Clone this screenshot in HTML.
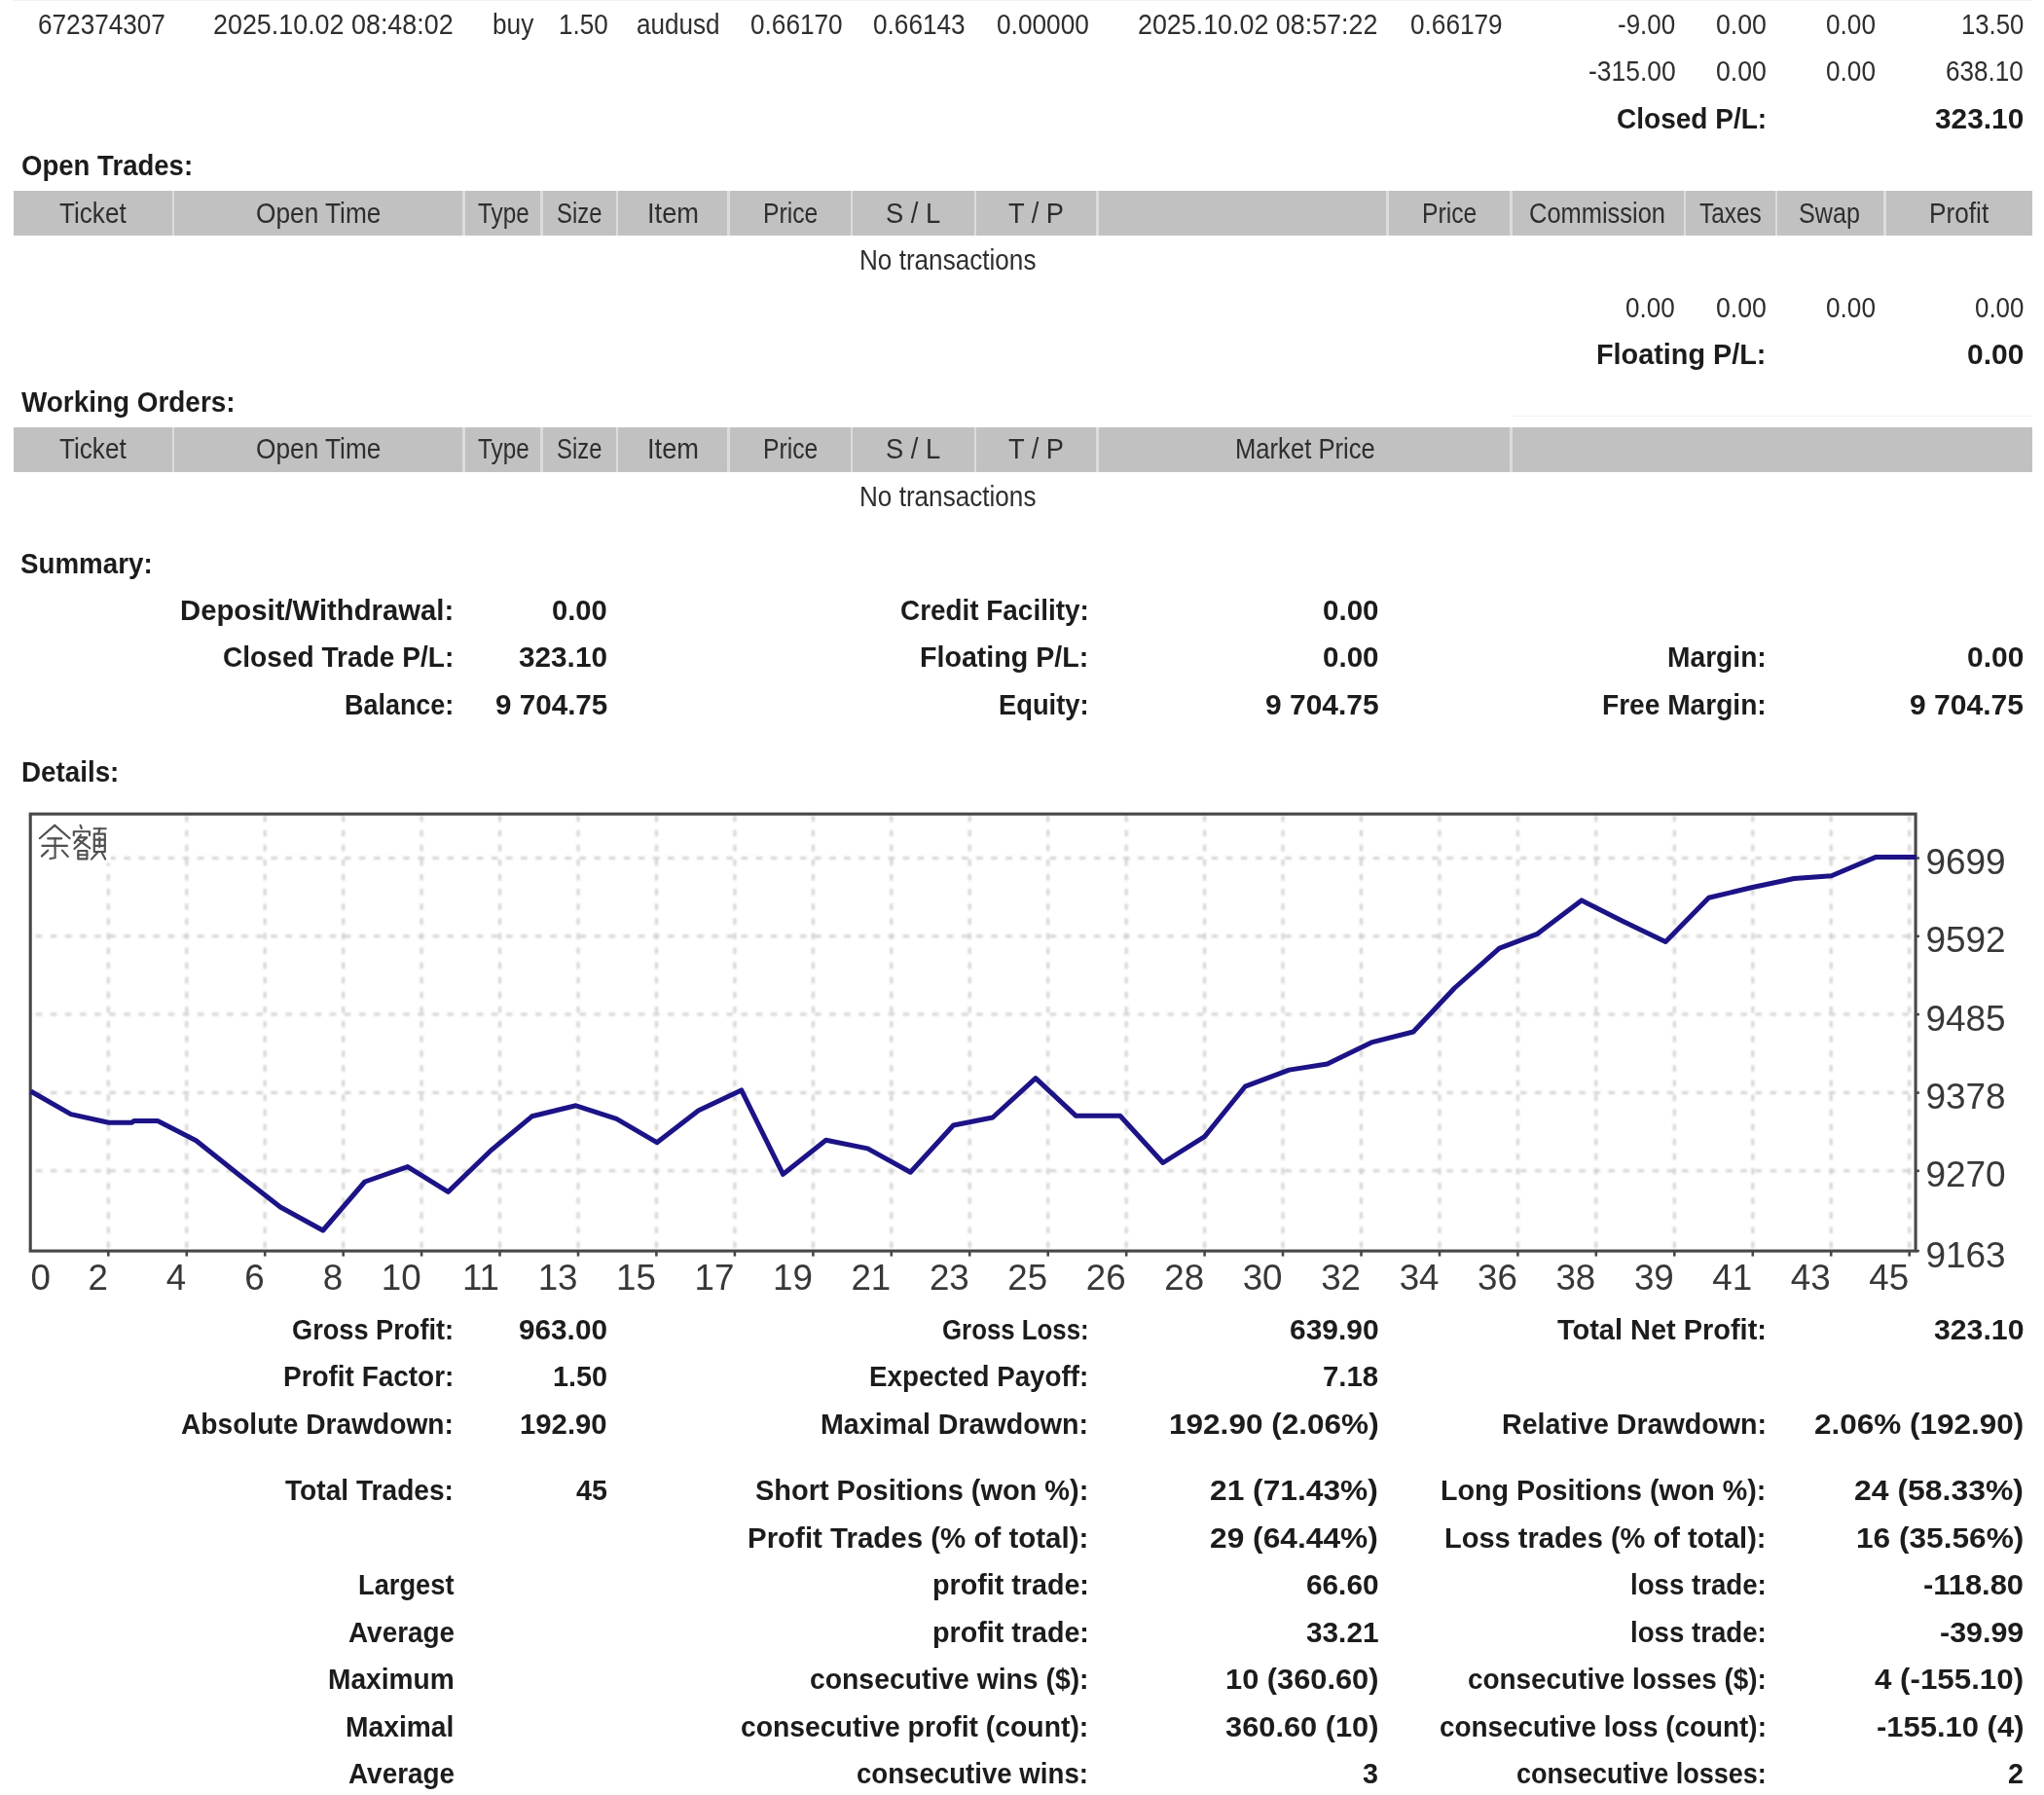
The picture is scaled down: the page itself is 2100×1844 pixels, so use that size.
<!DOCTYPE html>
<html><head><meta charset="utf-8"><title>Statement</title>
<style>
html,body{margin:0;padding:0;background:#fff}
body{width:2100px;height:1844px;position:relative;overflow:hidden;filter:blur(0.7px);font-family:"Liberation Sans",sans-serif}
.t{position:absolute;white-space:nowrap;font-size:29px;line-height:29px;transform-origin:0 0;display:block}
.r{color:#2e2e2e}
.b{font-weight:bold;color:#1c1c1c}
.hb{position:absolute;left:14px;width:2074px;background:#c1c1c1}
.sp{position:absolute;width:2.6px;background:#dcdcdc}
.ch{position:absolute;left:0;top:0}
.ln{position:absolute;left:14px;width:2074px;height:1px;background:#f1f1f1}
</style></head><body>
<div class="ln" style="top:0"></div><div class="ln" style="top:427px;left:1553px;width:535px"></div>
<div class="hb" style="top:195.8px;height:45.9px"></div><div class="sp" style="left:176.7px;top:195.8px;height:45.9px"></div><div class="sp" style="left:475.4px;top:195.8px;height:45.9px"></div><div class="sp" style="left:555.3px;top:195.8px;height:45.9px"></div><div class="sp" style="left:632.7px;top:195.8px;height:45.9px"></div><div class="sp" style="left:747.3px;top:195.8px;height:45.9px"></div><div class="sp" style="left:873.7px;top:195.8px;height:45.9px"></div><div class="sp" style="left:1000.9px;top:195.8px;height:45.9px"></div><div class="sp" style="left:1126.3px;top:195.8px;height:45.9px"></div><div class="sp" style="left:1424.2px;top:195.8px;height:45.9px"></div><div class="sp" style="left:1551.1px;top:195.8px;height:45.9px"></div><div class="sp" style="left:1729.7px;top:195.8px;height:45.9px"></div><div class="sp" style="left:1823.7px;top:195.8px;height:45.9px"></div><div class="sp" style="left:1935.1px;top:195.8px;height:45.9px"></div><div class="hb" style="top:438.5px;height:46.6px"></div><div class="sp" style="left:176.7px;top:438.5px;height:46.6px"></div><div class="sp" style="left:475.4px;top:438.5px;height:46.6px"></div><div class="sp" style="left:555.3px;top:438.5px;height:46.6px"></div><div class="sp" style="left:632.7px;top:438.5px;height:46.6px"></div><div class="sp" style="left:747.3px;top:438.5px;height:46.6px"></div><div class="sp" style="left:873.7px;top:438.5px;height:46.6px"></div><div class="sp" style="left:1000.9px;top:438.5px;height:46.6px"></div><div class="sp" style="left:1126.3px;top:438.5px;height:46.6px"></div><div class="sp" style="left:1551.1px;top:438.5px;height:46.6px"></div>
<svg class="ch" width="2100" height="1844" viewBox="0 0 2100 1844"><defs><filter id="gb" x="-5%" y="-5%" width="110%" height="110%"><feGaussianBlur stdDeviation="1.15"/></filter></defs><g stroke="#d3d3d3" stroke-width="3" stroke-dasharray="6.6 8.5" fill="none" filter="url(#gb)"><path d="M111.3 837.6 V1284.1"/><path d="M191.8 837.6 V1284.1"/><path d="M272.2 837.6 V1284.1"/><path d="M352.7 837.6 V1284.1"/><path d="M433.1 837.6 V1284.1"/><path d="M513.5 837.6 V1284.1"/><path d="M594.0 837.6 V1284.1"/><path d="M674.4 837.6 V1284.1"/><path d="M754.9 837.6 V1284.1"/><path d="M835.4 837.6 V1284.1"/><path d="M915.8 837.6 V1284.1"/><path d="M996.2 837.6 V1284.1"/><path d="M1076.7 837.6 V1284.1"/><path d="M1157.2 837.6 V1284.1"/><path d="M1237.6 837.6 V1284.1"/><path d="M1318.0 837.6 V1284.1"/><path d="M1398.5 837.6 V1284.1"/><path d="M1479.0 837.6 V1284.1"/><path d="M1559.4 837.6 V1284.1"/><path d="M1639.8 837.6 V1284.1"/><path d="M1720.3 837.6 V1284.1"/><path d="M1800.8 837.6 V1284.1"/><path d="M1881.2 837.6 V1284.1"/><path d="M1961.7 837.6 V1284.1"/><path d="M36.7 881.5 H1967.1"/><path d="M36.7 961.8 H1967.1"/><path d="M36.7 1042.1 H1967.1"/><path d="M36.7 1122.6 H1967.1"/><path d="M36.7 1202.8 H1967.1"/></g><g stroke="#474747" stroke-width="2.6" fill="none"><path d="M111.3 1285.1 V1290.6"/><path d="M191.8 1285.1 V1290.6"/><path d="M272.2 1285.1 V1290.6"/><path d="M352.7 1285.1 V1290.6"/><path d="M433.1 1285.1 V1290.6"/><path d="M513.5 1285.1 V1290.6"/><path d="M594.0 1285.1 V1290.6"/><path d="M674.4 1285.1 V1290.6"/><path d="M754.9 1285.1 V1290.6"/><path d="M835.4 1285.1 V1290.6"/><path d="M915.8 1285.1 V1290.6"/><path d="M996.2 1285.1 V1290.6"/><path d="M1076.7 1285.1 V1290.6"/><path d="M1157.2 1285.1 V1290.6"/><path d="M1237.6 1285.1 V1290.6"/><path d="M1318.0 1285.1 V1290.6"/><path d="M1398.5 1285.1 V1290.6"/><path d="M1479.0 1285.1 V1290.6"/><path d="M1559.4 1285.1 V1290.6"/><path d="M1639.8 1285.1 V1290.6"/><path d="M1720.3 1285.1 V1290.6"/><path d="M1800.8 1285.1 V1290.6"/><path d="M1881.2 1285.1 V1290.6"/><path d="M1961.7 1285.1 V1290.6"/><path d="M1968.1 881.5 H1971.8999999999999"/><path d="M1968.1 961.8 H1971.8999999999999"/><path d="M1968.1 1042.1 H1971.8999999999999"/><path d="M1968.1 1122.6 H1971.8999999999999"/><path d="M1968.1 1202.8 H1971.8999999999999"/><path d="M1968.1 1285.1 H1971.8999999999999"/></g><rect x="31.2" y="836.2" width="1936.8999999999999" height="448.89999999999986" fill="none" stroke="#474747" stroke-width="3.1"/><polyline fill="none" stroke="#1c1386" stroke-width="5" stroke-linejoin="round" stroke-linecap="butt" points="31.5,1121 72.8,1144.6 111.7,1153.3 135,1153.3 137.6,1151.6 162,1151.6 201.5,1171.7 246,1207.2 288,1240 331.8,1264 374.8,1214 418.8,1198.6 460.4,1224.4 504,1182.2 546.5,1146.8 591.7,1135.8 633.4,1149.3 674.9,1173.7 717.7,1140.7 761.7,1119.9 804.5,1206.3 848.6,1171.3 891.4,1179.9 935.4,1204.3 979.5,1156 1019.9,1148 1064,1107.6 1105.5,1146.3 1150.8,1146.3 1194.8,1194.5 1237.6,1167.6 1279.2,1116.2 1324.5,1099.1 1363.6,1093 1408.9,1070.9 1452,1060 1494.4,1015 1540.5,974.2 1578.9,959.7 1624.9,924.9 1667,946.2 1711.2,967.4 1755.6,922.2 1799.5,911.8 1843.3,902.5 1881.6,899.7 1926.8,880.6 1969,880.6"/><rect x="33" y="838" width="81" height="48.6" fill="#fff"/><g stroke="#505050" stroke-width="2.15" fill="none" stroke-linecap="round" stroke-linejoin="round"><path d="M56.2 847.9 L40.8 861.2"/><path d="M56.2 847.9 L71.6 861.2"/><path d="M49.2 861.4 H63.2"/><path d="M43.4 868.8 H69"/><path d="M56.6 861.4 V881.2 L51.5 882"/><path d="M49.2 873.6 L42.8 879.6"/><path d="M64 873.6 L69.8 880"/><path d="M82.6 847.8 L83.8 851"/><path d="M75.8 858.2 V854.2 H92 V858.2"/><path d="M83 857.6 L76.6 866"/><path d="M81 860.4 H89.2 L76.4 872"/><path d="M80.6 862.8 L92.4 871.4"/><path d="M80.3 874 H89.4 V882.4 H80.3 Z"/><path d="M80.3 878.2 H89.4"/><path d="M96.6 851.2 H108.8"/><path d="M102.6 851.2 L101 856.5"/><path d="M96.8 856.6 H107.8 V875 H96.8 Z"/><path d="M102.3 860.5 V870"/><path d="M96.8 862.6 H107.8"/><path d="M96.8 868.8 H107.8"/><path d="M100 876 L94 882.6"/><path d="M105 876.4 L108.2 882.6"/></g><g font-family="Liberation Sans, sans-serif" font-size="34" fill="#383838"><text transform="translate(31.6 1325.4) scale(1.08 1.06)" text-anchor="start">0</text><text transform="translate(110.8 1325.4) scale(1.08 1.06)" text-anchor="end">2</text><text transform="translate(191.2 1325.4) scale(1.08 1.06)" text-anchor="end">4</text><text transform="translate(271.7 1325.4) scale(1.08 1.06)" text-anchor="end">6</text><text transform="translate(352.2 1325.4) scale(1.08 1.06)" text-anchor="end">8</text><text transform="translate(432.6 1325.4) scale(1.08 1.06)" text-anchor="end">10</text><text transform="translate(513.0 1325.4) scale(1.08 1.06)" text-anchor="end">11</text><text transform="translate(593.5 1325.4) scale(1.08 1.06)" text-anchor="end">13</text><text transform="translate(673.9 1325.4) scale(1.08 1.06)" text-anchor="end">15</text><text transform="translate(754.4 1325.4) scale(1.08 1.06)" text-anchor="end">17</text><text transform="translate(834.9 1325.4) scale(1.08 1.06)" text-anchor="end">19</text><text transform="translate(915.3 1325.4) scale(1.08 1.06)" text-anchor="end">21</text><text transform="translate(995.8 1325.4) scale(1.08 1.06)" text-anchor="end">23</text><text transform="translate(1076.2 1325.4) scale(1.08 1.06)" text-anchor="end">25</text><text transform="translate(1156.7 1325.4) scale(1.08 1.06)" text-anchor="end">26</text><text transform="translate(1237.1 1325.4) scale(1.08 1.06)" text-anchor="end">28</text><text transform="translate(1317.5 1325.4) scale(1.08 1.06)" text-anchor="end">30</text><text transform="translate(1398.0 1325.4) scale(1.08 1.06)" text-anchor="end">32</text><text transform="translate(1478.5 1325.4) scale(1.08 1.06)" text-anchor="end">34</text><text transform="translate(1558.9 1325.4) scale(1.08 1.06)" text-anchor="end">36</text><text transform="translate(1639.3 1325.4) scale(1.08 1.06)" text-anchor="end">38</text><text transform="translate(1719.8 1325.4) scale(1.08 1.06)" text-anchor="end">39</text><text transform="translate(1800.2 1325.4) scale(1.08 1.06)" text-anchor="end">41</text><text transform="translate(1880.7 1325.4) scale(1.08 1.06)" text-anchor="end">43</text><text transform="translate(1961.2 1325.4) scale(1.08 1.06)" text-anchor="end">45</text><text transform="translate(1978.4 898.1) scale(1.088 1.06)">9699</text><text transform="translate(1978.4 978.4) scale(1.088 1.06)">9592</text><text transform="translate(1978.4 1058.7) scale(1.088 1.06)">9485</text><text transform="translate(1978.4 1139.2) scale(1.088 1.06)">9378</text><text transform="translate(1978.4 1219.4) scale(1.088 1.06)">9270</text><text transform="translate(1978.4 1301.7) scale(1.088 1.06)">9163</text></g></svg>
<span class="t r" style="left:38.80px;top:9.89px;transform:scale(0.9019,1.035)">672374307</span>
<span class="t r" style="left:219.40px;top:9.89px;transform:scale(0.9268,1.035)">2025.10.02 08:48:02</span>
<span class="t r" style="left:505.70px;top:9.89px;transform:scale(0.9060,1.035)">buy</span>
<span class="t r" style="left:574.00px;top:9.89px;transform:scale(0.8971,1.035)">1.50</span>
<span class="t r" style="left:654.40px;top:9.89px;transform:scale(0.8999,1.035)">audusd</span>
<span class="t r" style="left:771.30px;top:9.89px;transform:scale(0.9033,1.035)">0.66170</span>
<span class="t r" style="left:897.20px;top:9.89px;transform:scale(0.9033,1.035)">0.66143</span>
<span class="t r" style="left:1023.70px;top:9.89px;transform:scale(0.9052,1.035)">0.00000</span>
<span class="t r" style="left:1169.20px;top:9.89px;transform:scale(0.9257,1.035)">2025.10.02 08:57:22</span>
<span class="t r" style="left:1448.70px;top:9.89px;transform:scale(0.9033,1.035)">0.66179</span>
<span class="t r" style="left:1662.00px;top:9.89px;transform:scale(0.8953,1.035)">-9.00</span>
<span class="t r" style="left:1763.40px;top:9.89px;transform:scale(0.9201,1.035)">0.00</span>
<span class="t r" style="left:1876.40px;top:9.89px;transform:scale(0.9024,1.035)">0.00</span>
<span class="t r" style="left:2014.60px;top:9.89px;transform:scale(0.8865,1.035)">13.50</span>
<span class="t r" style="left:1631.50px;top:58.39px;transform:scale(0.9124,1.035)">-315.00</span>
<span class="t r" style="left:1763.40px;top:58.39px;transform:scale(0.9201,1.035)">0.00</span>
<span class="t r" style="left:1876.40px;top:58.39px;transform:scale(0.9024,1.035)">0.00</span>
<span class="t r" style="left:1999.20px;top:58.39px;transform:scale(0.8993,1.035)">638.10</span>
<span class="t b" style="left:1660.70px;top:107.75px;transform:scale(0.9661,1.0)">Closed P/L:</span>
<span class="t b" style="left:1987.70px;top:107.75px;transform:scale(1.0288,1.0)">323.10</span>
<span class="t b" style="left:21.50px;top:156.25px;transform:scale(0.9503,1.0)">Open Trades:</span>
<span class="t r" style="left:61.00px;top:203.89px;transform:scale(0.9007,1.035)">Ticket</span>
<span class="t r" style="left:263.00px;top:203.89px;transform:scale(0.9054,1.035)">Open Time</span>
<span class="t r" style="left:491.00px;top:203.89px;transform:scale(0.8390,1.035)">Type</span>
<span class="t r" style="left:572.00px;top:203.89px;transform:scale(0.8226,1.035)">Size</span>
<span class="t r" style="left:665.00px;top:203.89px;transform:scale(0.9396,1.035)">Item</span>
<span class="t r" style="left:784.00px;top:203.89px;transform:scale(0.8515,1.035)">Price</span>
<span class="t r" style="left:910.00px;top:203.89px;transform:scale(0.9430,1.035)">S / L</span>
<span class="t r" style="left:1036.40px;top:203.89px;transform:scale(0.9382,1.035)">T / P</span>
<span class="t r" style="left:1461.40px;top:203.89px;transform:scale(0.8515,1.035)">Price</span>
<span class="t r" style="left:1571.00px;top:203.89px;transform:scale(0.8777,1.035)">Commission</span>
<span class="t r" style="left:1746.30px;top:203.89px;transform:scale(0.8403,1.035)">Taxes</span>
<span class="t r" style="left:1848.30px;top:203.89px;transform:scale(0.8676,1.035)">Swap</span>
<span class="t r" style="left:1981.60px;top:203.89px;transform:scale(0.9038,1.035)">Profit</span>
<span class="t r" style="left:883.20px;top:252.39px;transform:scale(0.9005,1.035)">No transactions</span>
<span class="t r" style="left:1670.40px;top:300.89px;transform:scale(0.8989,1.035)">0.00</span>
<span class="t r" style="left:1763.40px;top:300.89px;transform:scale(0.9201,1.035)">0.00</span>
<span class="t r" style="left:1876.40px;top:300.89px;transform:scale(0.9024,1.035)">0.00</span>
<span class="t r" style="left:2028.60px;top:300.89px;transform:scale(0.8935,1.035)">0.00</span>
<span class="t b" style="left:1640.40px;top:350.25px;transform:scale(0.9932,1.0)">Floating P/L:</span>
<span class="t b" style="left:2020.70px;top:350.25px;transform:scale(1.0336,1.0)">0.00</span>
<span class="t b" style="left:21.50px;top:398.75px;transform:scale(0.9617,1.0)">Working Orders:</span>
<span class="t r" style="left:61.00px;top:446.39px;transform:scale(0.9007,1.035)">Ticket</span>
<span class="t r" style="left:263.00px;top:446.39px;transform:scale(0.9054,1.035)">Open Time</span>
<span class="t r" style="left:491.00px;top:446.39px;transform:scale(0.8390,1.035)">Type</span>
<span class="t r" style="left:572.00px;top:446.39px;transform:scale(0.8226,1.035)">Size</span>
<span class="t r" style="left:665.00px;top:446.39px;transform:scale(0.9396,1.035)">Item</span>
<span class="t r" style="left:784.00px;top:446.39px;transform:scale(0.8515,1.035)">Price</span>
<span class="t r" style="left:910.00px;top:446.39px;transform:scale(0.9430,1.035)">S / L</span>
<span class="t r" style="left:1036.40px;top:446.39px;transform:scale(0.9382,1.035)">T / P</span>
<span class="t r" style="left:1268.50px;top:446.39px;transform:scale(0.8831,1.035)">Market Price</span>
<span class="t r" style="left:883.20px;top:494.89px;transform:scale(0.9005,1.035)">No transactions</span>
<span class="t b" style="left:21.00px;top:564.55px;transform:scale(0.9562,1.0)">Summary:</span>
<span class="t b" style="left:185.00px;top:612.85px;transform:scale(1.0099,1.0)">Deposit/Withdrawal:</span>
<span class="t b" style="left:567.30px;top:612.85px;transform:scale(1.0052,1.0)">0.00</span>
<span class="t b" style="left:924.80px;top:612.85px;transform:scale(0.9617,1.0)">Credit Facility:</span>
<span class="t b" style="left:1358.80px;top:612.85px;transform:scale(1.0194,1.0)">0.00</span>
<span class="t b" style="left:229.00px;top:661.25px;transform:scale(0.9689,1.0)">Closed Trade P/L:</span>
<span class="t b" style="left:533.00px;top:661.25px;transform:scale(1.0255,1.0)">323.10</span>
<span class="t b" style="left:945.20px;top:661.25px;transform:scale(0.9869,1.0)">Floating P/L:</span>
<span class="t b" style="left:1358.80px;top:661.25px;transform:scale(1.0194,1.0)">0.00</span>
<span class="t b" style="left:1713.00px;top:661.25px;transform:scale(0.9714,1.0)">Margin:</span>
<span class="t b" style="left:2020.70px;top:661.25px;transform:scale(1.0336,1.0)">0.00</span>
<span class="t b" style="left:354.00px;top:709.65px;transform:scale(0.9286,1.0)">Balance:</span>
<span class="t b" style="left:508.60px;top:709.65px;transform:scale(1.0216,1.0)">9 704.75</span>
<span class="t b" style="left:1025.90px;top:709.65px;transform:scale(0.9419,1.0)">Equity:</span>
<span class="t b" style="left:1299.60px;top:709.65px;transform:scale(1.0332,1.0)">9 704.75</span>
<span class="t b" style="left:1646.00px;top:709.65px;transform:scale(0.9695,1.0)">Free Margin:</span>
<span class="t b" style="left:1962.00px;top:709.65px;transform:scale(1.0358,1.0)">9 704.75</span>
<span class="t b" style="left:21.50px;top:778.95px;transform:scale(0.9581,1.0)">Details:</span>
<span class="t b" style="left:300.20px;top:1351.65px;transform:scale(0.9374,1.0)">Gross Profit:</span>
<span class="t b" style="left:533.00px;top:1351.65px;transform:scale(1.0255,1.0)">963.00</span>
<span class="t b" style="left:967.70px;top:1351.65px;transform:scale(0.8906,1.0)">Gross Loss:</span>
<span class="t b" style="left:1324.60px;top:1351.65px;transform:scale(1.0334,1.0)">639.90</span>
<span class="t b" style="left:1599.80px;top:1351.65px;transform:scale(0.9980,1.0)">Total Net Profit:</span>
<span class="t b" style="left:1986.50px;top:1351.65px;transform:scale(1.0424,1.0)">323.10</span>
<span class="t b" style="left:290.90px;top:1400.15px;transform:scale(0.9631,1.0)">Profit Factor:</span>
<span class="t b" style="left:568.00px;top:1400.15px;transform:scale(0.9928,1.0)">1.50</span>
<span class="t b" style="left:893.10px;top:1400.15px;transform:scale(0.9574,1.0)">Expected Payoff:</span>
<span class="t b" style="left:1359.20px;top:1400.15px;transform:scale(1.0123,1.0)">7.18</span>
<span class="t b" style="left:186.40px;top:1448.65px;transform:scale(0.9705,1.0)">Absolute Drawdown:</span>
<span class="t b" style="left:534.30px;top:1448.65px;transform:scale(1.0108,1.0)">192.90</span>
<span class="t b" style="left:843.40px;top:1448.65px;transform:scale(0.9862,1.0)">Maximal Drawdown:</span>
<span class="t b" style="left:1200.60px;top:1448.65px;transform:scale(1.0874,1.0)">192.90 (2.06%)</span>
<span class="t b" style="left:1542.70px;top:1448.65px;transform:scale(0.9873,1.0)">Relative Drawdown:</span>
<span class="t b" style="left:1863.60px;top:1448.65px;transform:scale(1.0859,1.0)">2.06% (192.90)</span>
<span class="t b" style="left:293.30px;top:1517.25px;transform:scale(0.9700,1.0)">Total Trades:</span>
<span class="t b" style="left:592.10px;top:1517.25px;transform:scale(0.9909,1.0)">45</span>
<span class="t b" style="left:776.00px;top:1517.25px;transform:scale(0.9976,1.0)">Short Positions (won %):</span>
<span class="t b" style="left:1243.40px;top:1517.25px;transform:scale(1.0940,1.0)">21 (71.43%)</span>
<span class="t b" style="left:1480.40px;top:1517.25px;transform:scale(0.9882,1.0)">Long Positions (won %):</span>
<span class="t b" style="left:1905.00px;top:1517.25px;transform:scale(1.1009,1.0)">24 (58.33%)</span>
<span class="t b" style="left:768.10px;top:1565.75px;transform:scale(1.0159,1.0)">Profit Trades (% of total):</span>
<span class="t b" style="left:1243.40px;top:1565.75px;transform:scale(1.0940,1.0)">29 (64.44%)</span>
<span class="t b" style="left:1484.20px;top:1565.75px;transform:scale(1.0006,1.0)">Loss trades (% of total):</span>
<span class="t b" style="left:1906.60px;top:1565.75px;transform:scale(1.0908,1.0)">16 (35.56%)</span>
<span class="t b" style="left:367.90px;top:1614.25px;transform:scale(0.9399,1.0)">Largest</span>
<span class="t b" style="left:957.50px;top:1614.25px;transform:scale(0.9890,1.0)">profit trade:</span>
<span class="t b" style="left:1341.70px;top:1614.25px;transform:scale(1.0269,1.0)">66.60</span>
<span class="t b" style="left:1675.00px;top:1614.25px;transform:scale(0.9530,1.0)">loss trade:</span>
<span class="t b" style="left:1976.00px;top:1614.25px;transform:scale(1.0650,1.0)">-118.80</span>
<span class="t b" style="left:358.10px;top:1662.75px;transform:scale(0.9622,1.0)">Average</span>
<span class="t b" style="left:957.50px;top:1662.75px;transform:scale(0.9890,1.0)">profit trade:</span>
<span class="t b" style="left:1341.70px;top:1662.75px;transform:scale(1.0269,1.0)">33.21</span>
<span class="t b" style="left:1675.00px;top:1662.75px;transform:scale(0.9530,1.0)">loss trade:</span>
<span class="t b" style="left:1992.80px;top:1662.75px;transform:scale(1.0485,1.0)">-39.99</span>
<span class="t b" style="left:336.60px;top:1711.25px;transform:scale(0.9702,1.0)">Maximum</span>
<span class="t b" style="left:831.80px;top:1711.25px;transform:scale(0.9770,1.0)">consecutive wins ($):</span>
<span class="t b" style="left:1258.80px;top:1711.25px;transform:scale(1.0618,1.0)">10 (360.60)</span>
<span class="t b" style="left:1507.80px;top:1711.25px;transform:scale(0.9616,1.0)">consecutive losses ($):</span>
<span class="t b" style="left:1926.00px;top:1711.25px;transform:scale(1.0789,1.0)">4 (-155.10)</span>
<span class="t b" style="left:355.00px;top:1759.75px;transform:scale(0.9729,1.0)">Maximal</span>
<span class="t b" style="left:761.20px;top:1759.75px;transform:scale(0.9768,1.0)">consecutive profit (count):</span>
<span class="t b" style="left:1258.80px;top:1759.75px;transform:scale(1.0618,1.0)">360.60 (10)</span>
<span class="t b" style="left:1478.70px;top:1759.75px;transform:scale(0.9607,1.0)">consecutive loss (count):</span>
<span class="t b" style="left:1927.60px;top:1759.75px;transform:scale(1.0676,1.0)">-155.10 (4)</span>
<span class="t b" style="left:358.10px;top:1808.25px;transform:scale(0.9622,1.0)">Average</span>
<span class="t b" style="left:880.40px;top:1808.25px;transform:scale(0.9526,1.0)">consecutive wins:</span>
<span class="t b" style="left:1400.35px;top:1808.25px;transform:scale(0.9909,1.0)">3</span>
<span class="t b" style="left:1557.90px;top:1808.25px;transform:scale(0.9316,1.0)">consecutive losses:</span>
<span class="t b" style="left:2063.05px;top:1808.25px;transform:scale(0.9909,1.0)">2</span>
</body></html>
